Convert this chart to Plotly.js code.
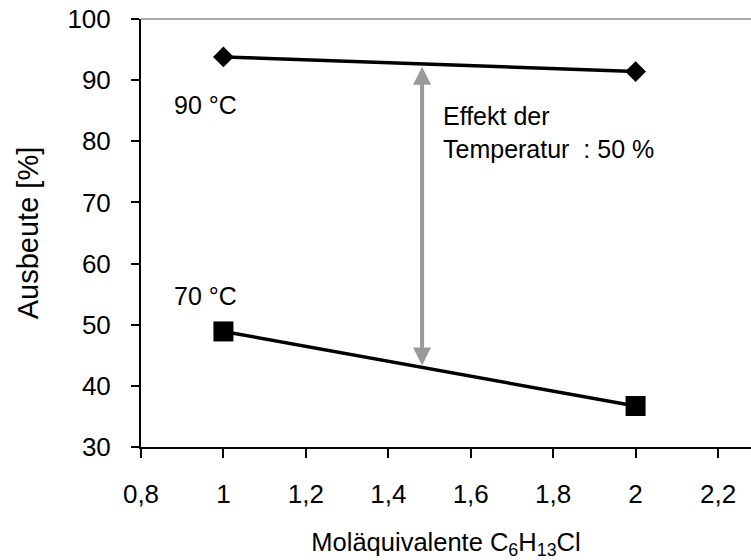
<!DOCTYPE html>
<html>
<head>
<meta charset="utf-8">
<script src="https://cdn.plot.ly/plotly-3.0.1.min.js"></script>
<style>
  html, body { margin: 0; padding: 0; background: #fff; }
  #chart { width: 751px; height: 560px; }
</style>
</head>
<body>
<div id="chart"></div>
<script>
// Moläquivalente C6H13Cl
const equivalents = [1, 2];
// Ausbeute [%] bei 90 °C und 70 °C
const yield90 = [93.8, 91.4];
const yield70 = [48.9, 36.7];

// Temperatureffekt (Doppelpfeil zwischen den Kurven)
const effectX = 1.482;
const effectFrom = 43.1;
const effectTo = 92.2;

const xTicks = [0.8, 1, 1.2, 1.4, 1.6, 1.8, 2, 2.2];
const xTickText = ['0,8', '1', '1,2', '1,4', '1,6', '1,8', '2', '2,2'];
const yTicks = [30, 40, 50, 60, 70, 80, 90, 100];

const font = 'Liberation Sans, Arial, sans-serif';

const traces = [
  {
    x: equivalents, y: yield90, mode: 'lines+markers', name: '90 °C',
    line: { color: '#000', width: 3.5 },
    marker: { symbol: 'diamond', size: 16, color: '#000' }
  },
  {
    x: equivalents, y: yield70, mode: 'lines+markers', name: '70 °C',
    line: { color: '#000', width: 3.5 },
    marker: { symbol: 'square', size: 20, color: '#000' }
  }
];

const layout = {
  width: 751, height: 560,
  margin: { l: 141, r: 0, t: 19, b: 113 },
  paper_bgcolor: '#fff', plot_bgcolor: '#fff',
  showlegend: false,
  font: { family: font, size: 25, color: '#000' },
  xaxis: {
    range: [0.8, 2.28],
    tickvals: xTicks, ticktext: xTickText,
    ticks: 'outside', ticklen: 9, tickwidth: 2, tickcolor: '#000',
    ticklabelstandoff: 14,
    showline: true, linecolor: '#000', linewidth: 2,
    showgrid: false, zeroline: false,
    tickfont: { family: font, size: 26 },
    title: { text: 'Moläquivalente C<sub>6</sub>H<sub>13</sub>Cl', font: { family: font, size: 25.5 }, standoff: 27 }
  },
  yaxis: {
    range: [30, 100],
    tickvals: yTicks,
    ticks: 'outside', ticklen: 8, tickwidth: 2, tickcolor: '#000',
    ticklabelstandoff: 15,
    showline: true, linecolor: '#000', linewidth: 2,
    showgrid: false, zeroline: false,
    tickfont: { family: font, size: 26 },
    title: { text: 'Ausbeute [%]', font: { family: font, size: 29 }, standoff: 20 }
  },
  shapes: [
    { type: 'line', xref: 'paper', yref: 'paper', x0: 0, x1: 1, y0: 1, y1: 1,
      line: { color: '#8c8c8c', width: 1.5 } }
  ],
  annotations: [
    {
      x: effectX, y: effectTo, ax: effectX, ay: effectFrom,
      xref: 'x', yref: 'y', axref: 'x', ayref: 'y',
      text: '', showarrow: true, arrowside: 'end+start',
      arrowhead: 2, arrowsize: 0.9, arrowwidth: 4, arrowcolor: '#999'
    },
    {
      x: 1.527, y: 81.4, xref: 'x', yref: 'y', xanchor: 'left', yanchor: 'middle',
      text: 'Effekt der<br>Temperatur  : 50 %', showarrow: false, align: 'left',
      font: { size: 25 }
    },
    {
      x: 0.876, y: 86.0, xref: 'x', yref: 'y', xanchor: 'left', yanchor: 'middle',
      text: '90 °C', showarrow: false, font: { size: 25 }
    },
    {
      x: 0.876, y: 54.7, xref: 'x', yref: 'y', xanchor: 'left', yanchor: 'middle',
      text: '70 °C', showarrow: false, font: { size: 25 }
    }
  ]
};

Plotly.newPlot('chart', traces, layout, { displayModeBar: false, staticPlot: true });
</script>
</body>
</html>
